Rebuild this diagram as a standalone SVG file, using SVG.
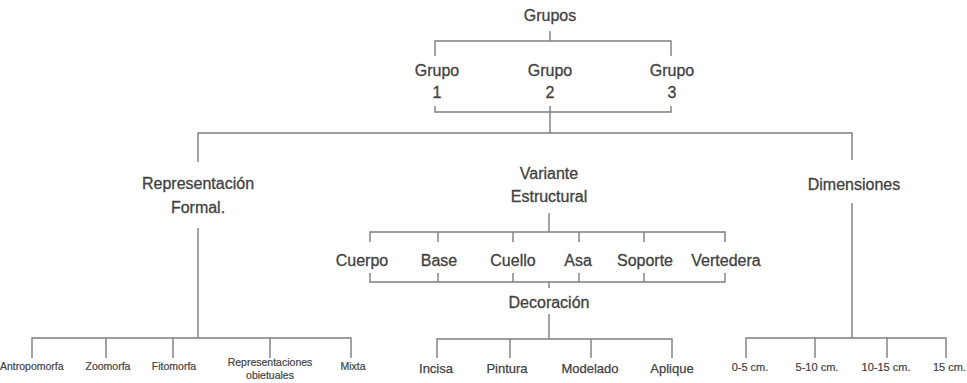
<svg xmlns="http://www.w3.org/2000/svg" width="967" height="383" viewBox="0 0 967 383">
<style>
.bg{fill:#ffffff}
.ln{fill:none;stroke:#7d7d7d;stroke-width:1.4}
text{font-family:"Liberation Sans",Arial,sans-serif;fill:#424242;stroke:#424242;stroke-width:0.3;text-anchor:middle}
.l{font-size:16px}
.s{font-size:10.5px;stroke-width:0.2}
.m{font-size:13px;stroke-width:0.25}
.d{font-size:11px;stroke-width:0.2}
</style>
<rect class="bg" x="0" y="0" width="967" height="383"/>
<g id="connectors">
<path class="ln" d="M550 31V41M435 56V41H671V56"/>
<path class="ln" d="M435 106V112H671V106M550 106V133M198 162V133H852V160"/>
<path class="ln" d="M198 228V338M32 358V338H351V358M106 338V358M173 338V358M270 338V358"/>
<path class="ln" d="M549 213V232M370 242V232H725V242M438 232V242M513 232V242M579 232V242M644 232V242"/>
<path class="ln" d="M370 273V282H725V273M438 273V282M513 273V282M579 273V282M644 273V282M549 282V288"/>
<path class="ln" d="M549 314V339M437 358V339H672V358M510 339V358M591 339V358"/>
<path class="ln" d="M852 203V338M746 358V338H946V358M815 338V358M887 338V358"/>
</g>
<g id="n-grupos"><text class="l" x="550" y="21">Grupos</text></g>
<g id="n-grupo1"><text class="l" x="437" y="76">Grupo</text><text class="l" x="437" y="98">1</text></g>
<g id="n-grupo2"><text class="l" x="550" y="76">Grupo</text><text class="l" x="550" y="98">2</text></g>
<g id="n-grupo3"><text class="l" x="672" y="76">Grupo</text><text class="l" x="672" y="98">3</text></g>
<g id="n-representacion"><text class="l" x="198" y="189">Representación</text><text class="l" x="198" y="213">Formal.</text></g>
<g id="n-variante"><text class="l" x="549" y="179">Variante</text><text class="l" x="549" y="202">Estructural</text></g>
<g id="n-dimensiones"><text class="l" x="854" y="190">Dimensiones</text></g>
<g id="n-cuerpo"><text class="l" x="362" y="266">Cuerpo</text></g>
<g id="n-base"><text class="l" x="439" y="266">Base</text></g>
<g id="n-cuello"><text class="l" x="513" y="266">Cuello</text></g>
<g id="n-asa"><text class="l" x="578" y="266">Asa</text></g>
<g id="n-soporte"><text class="l" x="645" y="266">Soporte</text></g>
<g id="n-vertedera"><text class="l" x="726" y="266">Vertedera</text></g>
<g id="n-decoracion"><text class="l" x="549" y="308">Decoración</text></g>
<g id="n-antropomorfa"><text class="s" x="0" y="370" style="text-anchor:start">Antropomorfa</text></g>
<g id="n-zoomorfa"><text class="s" x="108" y="370">Zoomorfa</text></g>
<g id="n-fitomorfa"><text class="s" x="174" y="370">Fitomorfa</text></g>
<g id="n-objetuales"><text class="s" x="270" y="366">Representaciones</text><text class="s" x="270" y="379">obietuales</text></g>
<g id="n-mixta"><text class="s" x="353" y="370">Mixta</text></g>
<g id="n-incisa"><text class="m" x="436" y="373">Incisa</text></g>
<g id="n-pintura"><text class="m" x="507" y="373">Pintura</text></g>
<g id="n-modelado"><text class="m" x="590" y="373">Modelado</text></g>
<g id="n-aplique"><text class="m" x="672" y="373">Aplique</text></g>
<g id="n-d1"><text class="d" x="750" y="371">0-5 cm.</text></g>
<g id="n-d2"><text class="d" x="817" y="371">5-10 cm.</text></g>
<g id="n-d3"><text class="d" x="886" y="371">10-15 cm.</text></g>
<g id="n-d4"><text class="d" x="933" y="371" style="text-anchor:start">15 cm.</text></g>
</svg>
